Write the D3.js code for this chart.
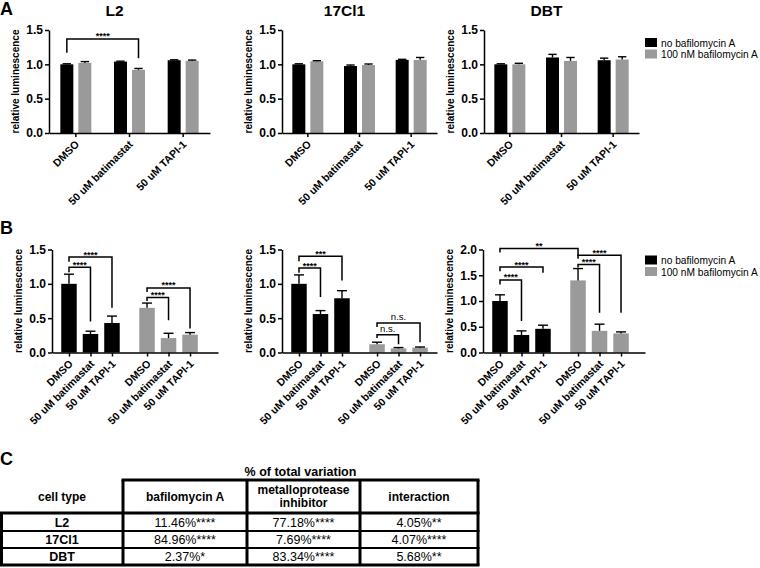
<!DOCTYPE html>
<html><head><meta charset="utf-8">
<script src="https://cdn.jsdelivr.net/npm/d3@7"></script>
<style>
body{margin:0;background:#fff}
svg{display:block;font-family:"Liberation Sans",Arial,sans-serif}
</style>
</head><body>
<svg id="fig" width="760" height="568"></svg>
<script>
// ---------------- data ----------------
const conditions = ["DMSO", "50 uM batimastat", "50 uM TAPI-1"];
const treatments = ["no bafilomycin A", "100 nM bafilomycin A"];
const cellTypes = ["L2", "17Cl1", "DBT"];
const yTicks15 = [0, 0.5, 1.0, 1.5];
const yTicks20 = [0, 0.5, 1.0, 1.5, 2.0];

// Panel A: [treatment][condition]
const aL2Mean = [[1.00, 1.04, 1.06], [1.02, 0.92, 1.05]];
const aL2Err  = [[0.008, 0.006, 0.006], [0.02, 0.02, 0.012]];
const a17Mean = [[1.00, 0.975, 1.065], [1.045, 0.99, 1.065]];
const a17Err  = [[0.008, 0.015, 0.008], [0.008, 0.015, 0.035]];
const aDBTMean = [[1.00, 1.10, 1.06], [1.00, 1.05, 1.07]];
const aDBTErr  = [[0.008, 0.045, 0.03], [0.015, 0.05, 0.04]];
// brackets: bar indices (condition*2 + treatment), y levels in data units
const aL2Brackets = [{from: 0, to: 3, top: 1.37, left: 1.17, right: 1.09, label: "****"}];

// Panel B: [treatment][condition]
const bL2Mean = [[1.00, 0.27, 0.43], [0.65, 0.21, 0.26]];
const bL2Err  = [[0.14, 0.04, 0.10], [0.07, 0.07, 0.03]];
const b17Mean = [[1.00, 0.56, 0.79], [0.12, 0.06, 0.07]];
const b17Err  = [[0.13, 0.05, 0.11], [0.03, 0.012, 0.01]];
const bDBTMean = [[1.00, 0.34, 0.46], [1.40, 0.42, 0.37]];
const bDBTErr  = [[0.12, 0.08, 0.07], [0.23, 0.13, 0.03]];
// bar indices (treatment*3 + condition)
const bL2Brackets = [
  {from: 0, to: 2, top: 1.39, left: 1.32, right: 0.65, label: "****"},
  {from: 0, to: 1, top: 1.24, left: 1.17, right: 0.45, label: "****"},
  {from: 3, to: 5, top: 0.94, left: 0.88, right: 0.35, label: "****"},
  {from: 3, to: 4, top: 0.80, left: 0.75, right: 0.47, label: "****"}
];
const b17Brackets = [
  {from: 0, to: 2, top: 1.40, left: 1.33, right: 1.05, label: "***"},
  {from: 0, to: 1, top: 1.23, left: 1.16, right: 0.81, label: "****"},
  {from: 3, to: 5, top: 0.43, left: 0.37, right: 0.15, label: "n.s."},
  {from: 3, to: 4, top: 0.26, left: 0.21, right: 0.12, label: "n.s."}
];
const bDBTBrackets = [
  {from: 0, to: 3, top: 2.02, left: 1.94, right: 1.87, label: "**"},
  {from: 0, to: 2, top: 1.66, left: 1.58, right: 1.55, label: "****"},
  {from: 0, to: 1, top: 1.41, left: 1.32, right: 0.61, label: "****"},
  {from: 3, to: 5, top: 1.89, left: 1.82, right: 0.77, label: "****"},
  {from: 3, to: 4, top: 1.71, left: 1.65, right: 0.77, label: "****"}
];

// Panel C table
const tableTitle = "% of total variation";
const tableHeaders = [["cell type"], ["bafilomycin A"], ["metalloprotease", "inhibitor"], ["interaction"]];
const bafPct = ["11.46%", "84.96%", "2.37%"];
const bafSig = ["****", "****", "*"];
const mmpPct = ["77.18%", "7.69%", "83.34%"];
const mmpSig = ["****", "****", "****"];
const intPct = ["4.05%", "4.07%", "5.68%"];
const intSig = ["**", "****", "**"];

// ---------------- drawing ----------------
const svg = d3.select("#fig");
const FONT = '"Liberation Sans", Arial, sans-serif';
const fills = ["#000000", "#9a9a9a"];

function styleAxis(s) {
  s.attr("font-family", FONT).attr("font-size", 12).attr("font-weight", "bold");
  s.selectAll("path,line").attr("stroke", "#000").attr("stroke-width", 1.5);
  s.selectAll("text").attr("fill", "#000");
}

function yAxis(x0, y, ticks) {
  svg.append("g").attr("transform", `translate(${x0},0)`)
    .call(d3.axisLeft(y).tickValues(ticks).tickFormat(d3.format(".1f")).tickSize(4).tickSizeOuter(0).tickPadding(2))
    .call(styleAxis);
  const [r0, r1] = y.range();
  svg.append("text")
    .attr("transform", `translate(${x0 - 30},${(r0 + r1) / 2}) rotate(-90)`)
    .attr("text-anchor", "middle").attr("font-size", 10).attr("font-weight", "bold")
    .text("relative luminescence");
}

function xAxis(y0, scale, ticks, labels) {
  const ax = d3.axisBottom(scale).tickSize(4).tickSizeOuter(0);
  if (ticks) ax.tickValues(ticks).tickFormat((d, i) => labels[i]);
  svg.append("g").attr("transform", `translate(0,${y0})`)
    .call(ax).call(styleAxis)
    .call(s => s.selectAll(".tick text")
      .attr("y", 0).attr("dy", 0).attr("font-size", 10.6)
      .attr("text-anchor", "end")
      .attr("transform", "translate(4,12) rotate(-45)"));
}

function drawBars(bars, y) {
  const g = svg.append("g");
  g.selectAll("rect").data(bars).join("rect")
    .attr("x", d => d.cx - d.bw / 2).attr("y", d => y(d.mean))
    .attr("width", d => d.bw).attr("height", d => y(0) - y(d.mean))
    .attr("fill", d => d.fill);
  g.selectAll("line.v").data(bars).join("line").attr("class", "v")
    .attr("x1", d => d.cx).attr("x2", d => d.cx)
    .attr("y1", d => y(d.mean)).attr("y2", d => y(d.mean + d.err))
    .attr("stroke", "#000").attr("stroke-width", 1.4);
  g.selectAll("line.c").data(bars).join("line").attr("class", "c")
    .attr("x1", d => d.cx - d.bw * 0.32).attr("x2", d => d.cx + d.bw * 0.32)
    .attr("y1", d => y(d.mean + d.err)).attr("y2", d => y(d.mean + d.err))
    .attr("stroke", "#000").attr("stroke-width", 1.4);
}

function drawBrackets(bars, y, brackets) {
  const g = svg.append("g");
  g.selectAll("path").data(brackets).join("path")
    .attr("d", d => `M${bars[d.from].cx},${y(d.left)}V${y(d.top)}H${bars[d.to].cx}V${y(d.right)}`)
    .attr("fill", "none").attr("stroke", "#000").attr("stroke-width", 1.5);
  g.selectAll("text").data(brackets).join("text")
    .attr("x", d => (bars[d.from].cx + bars[d.to].cx) / 2)
    .attr("y", d => y(d.top) - (d.label === "n.s." ? 2.5 : -0.5))
    .attr("text-anchor", "middle")
    .attr("font-size", d => d.label === "n.s." ? 9.5 : 9)
    .attr("font-weight", d => d.label === "n.s." ? "normal" : "bold")
    .text(d => d.label);
}

function legend(x, y) {
  const g = svg.append("g").attr("transform", `translate(${x},${y})`);
  const row = g.selectAll("g").data(treatments).join("g")
    .attr("transform", (d, i) => `translate(0,${i * 11.5})`);
  row.append("rect").attr("width", 12).attr("height", 9).attr("fill", (d, i) => fills[i]);
  row.append("text").attr("x", 16).attr("y", 8.5).attr("font-size", 10.2).text(d => d);
}

function panelA(x0, w, title, mean, err, brackets) {
  const y = d3.scaleLinear().domain([0, 1.5]).range([133, 30]);
  const x = d3.scaleBand().domain(conditions).range([x0, x0 + w]);
  const xi = d3.scaleBand().domain(treatments).range([-15.5, 15.5]).paddingInner(0.278);
  const bars = [];
  conditions.forEach((c, ci) => treatments.forEach((t, ti) => bars.push({
    cx: x(c) + x.bandwidth() / 2 + xi(t) + xi.bandwidth() / 2,
    bw: xi.bandwidth(), mean: mean[ti][ci], err: err[ti][ci], fill: fills[ti]
  })));
  drawBars(bars, y);
  yAxis(x0, y, yTicks15);
  xAxis(133, x);
  if (brackets) drawBrackets(bars, y, brackets);
  svg.append("text").attr("x", (x0 - 30 + x0 + w) / 2).attr("y", 16)
    .attr("text-anchor", "middle").attr("font-size", 15.5).attr("font-weight", "bold").text(title);
}

function panelB(x0, w, yMax, ticks, mean, err, brackets) {
  const y = d3.scaleLinear().domain([0, yMax]).range([352.5, 249.5]);
  const unit = 21.5, gap = 3.63;
  const x = d3.scaleLinear().domain([-0.79, -0.79 + w / unit]).range([x0, x0 + w]);
  const pos = [], labels = [], bars = [];
  treatments.forEach((t, ti) => conditions.forEach((c, ci) => {
    const p = ti * gap + ci;
    pos.push(p); labels.push(c);
    bars.push({cx: x(p), bw: 15.5, mean: mean[ti][ci], err: err[ti][ci], fill: fills[ti]});
  }));
  drawBars(bars, y);
  yAxis(x0, y, ticks);
  xAxis(352.5, x, pos, labels);
  drawBrackets(bars, y, brackets);
}

// Panel letters
[["A", 15], ["B", 234], ["C", 465]].forEach(([t, yy]) =>
  svg.append("text").attr("x", 0).attr("y", yy).attr("font-size", 18).attr("font-weight", "bold").text(t));

panelA(49, 161, cellTypes[0], aL2Mean, aL2Err, aL2Brackets);
panelA(282, 155, cellTypes[1], a17Mean, a17Err, null);
panelA(484, 155, cellTypes[2], aDBTMean, aDBTErr, null);
legend(645, 38);

panelB(52, 166, 1.5, yTicks15, bL2Mean, bL2Err, bL2Brackets);
panelB(282, 155, 1.5, yTicks15, b17Mean, b17Err, b17Brackets);
panelB(483, 162, 2.0, yTicks20, bDBTMean, bDBTErr, bDBTBrackets);
legend(645, 255.5);

// ---------------- table ----------------
const colEdges = [1, 123, 247, 360, 478];
const rowEdges = [480, 513, 531, 548, 565];
const tg = svg.append("g").attr("font-family", FONT);
tg.append("text").attr("x", (colEdges[1] + colEdges[4]) / 2).attr("y", 476)
  .attr("text-anchor", "middle").attr("font-size", 12.5).attr("font-weight", "bold").text(tableTitle);
const hLines = [
  [colEdges[1], colEdges[4], rowEdges[0], 3],
  [colEdges[0], colEdges[4], rowEdges[1], 3],
  [colEdges[0], colEdges[4], rowEdges[2], 2],
  [colEdges[0], colEdges[4], rowEdges[3], 2],
  [colEdges[0], colEdges[4], rowEdges[4], 3]
];
tg.selectAll("line.h").data(hLines).join("line").attr("class", "h")
  .attr("x1", d => d[0] - 1.5).attr("x2", d => d[1] + 1.5).attr("y1", d => d[2]).attr("y2", d => d[2])
  .attr("stroke", "#000").attr("stroke-width", d => d[3]);
const vLines = [
  [colEdges[0] + 0.5, rowEdges[1], rowEdges[4]],
  [colEdges[1], rowEdges[0], rowEdges[4]],
  [colEdges[2], rowEdges[0], rowEdges[4]],
  [colEdges[3], rowEdges[0], rowEdges[4]],
  [colEdges[4], rowEdges[0], rowEdges[4]]
];
tg.selectAll("line.v").data(vLines).join("line").attr("class", "v")
  .attr("x1", d => d[0]).attr("x2", d => d[0]).attr("y1", d => d[1]).attr("y2", d => d[2])
  .attr("stroke", "#000").attr("stroke-width", 3);
tableHeaders.forEach((lines, ci) => {
  const cx = (colEdges[ci] + colEdges[ci + 1]) / 2;
  const t = tg.append("text").attr("text-anchor", "middle").attr("font-size", 12).attr("font-weight", "bold");
  const y0 = lines.length === 1 ? 500.5 : 494;
  lines.forEach((l, li) => t.append("tspan").attr("x", cx).attr("y", y0 + li * 13).text(l));
});
const cols = [[bafPct, bafSig], [mmpPct, mmpSig], [intPct, intSig]];
cellTypes.forEach((ct, ri) => {
  const by = rowEdges[ri + 1] + (rowEdges[ri + 2] - rowEdges[ri + 1]) / 2 + 4.5;
  tg.append("text").attr("x", (colEdges[0] + colEdges[1]) / 2).attr("y", by)
    .attr("text-anchor", "middle").attr("font-size", 12.5).attr("font-weight", "bold").text(ct);
  cols.forEach(([pct, sig], ci) => {
    tg.append("text").attr("x", (colEdges[ci + 1] + colEdges[ci + 2]) / 2).attr("y", by)
      .attr("text-anchor", "middle").attr("font-size", 12.5)
      .text(pct[ri] + sig[ri]);
  });
});
</script>
</body></html>
